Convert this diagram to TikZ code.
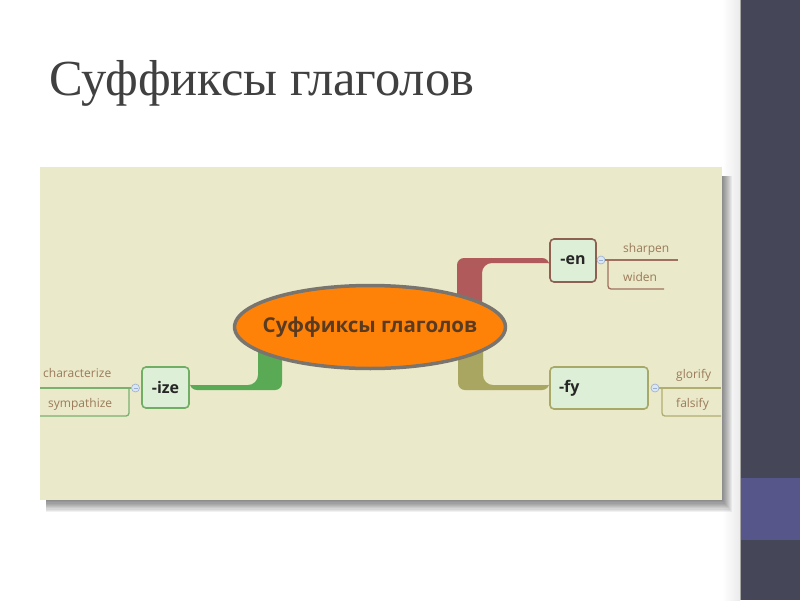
\documentclass[tikz,border=0pt]{standalone}
\usepackage{fontspec}
\setmainfont{Liberation Serif}
\newfontfamily\uisans{Open Sans}
\usetikzlibrary{shapes.geometric}
\definecolor{slidebar}{HTML}{454657}
\definecolor{slideacc}{HTML}{56568A}
\definecolor{beige}{HTML}{EAE9C9}
\definecolor{orng}{HTML}{FF8208}
\definecolor{ellb}{HTML}{7A746E}
\definecolor{roottxt}{HTML}{5A3B1F}
\definecolor{enc}{HTML}{B05A5C}
\definecolor{izec}{HTML}{5AAA55}
\definecolor{fyc}{HTML}{A8A660}
\definecolor{enbd}{HTML}{8E6052}
\definecolor{izebd}{HTML}{6FAE64}
\definecolor{fybd}{HTML}{A8A868}
\definecolor{enlf}{HTML}{A0705E}
\definecolor{izelf}{HTML}{7AB070}
\definecolor{fylf}{HTML}{B0AE70}
\definecolor{boxfill}{HTML}{DDEFD6}
\definecolor{leaftxt}{HTML}{9A7A5A}
\definecolor{knobd}{HTML}{9AB0D0}
\definecolor{knobf}{HTML}{DCE6F2}
\definecolor{titlec}{HTML}{404040}
\pgfdeclarelayer{back}
\pgfdeclarelayer{bg}
\pgfsetlayers{back,bg,main}
\begin{document}
\begin{tikzpicture}[x=1pt,y=-1pt,
  mbox/.style={draw, line width=1.6pt, rounded corners=4pt, fill=boxfill, inner sep=0pt,
    font=\uisans\bfseries\fontsize{16}{19}\selectfont, text=black!85},
  leaf/.style={inner sep=0pt, anchor=base west, font=\uisans\fontsize{12}{14}\selectfont, text=leaftxt},
  knob/.style={circle, draw=knobd, fill=knobf, line width=0.6pt, minimum size=8pt, inner sep=0pt},
  leafline/.style={line width=1.3pt, rounded corners=3pt},
]
\useasboundingbox (0,0) rectangle (800,600);
\begin{pgfonlayer}{back}
% slide background
\fill[white] (0,0) rectangle (800,600);
\shade[left color=white, right color=black!8] (722,0) rectangle (740,600);
\fill[slidebar] (740,0) rectangle (800,600);
\fill[slideacc] (741,478) rectangle (800,540);
\draw[black!35, line width=0.6pt] (740.3,0) -- (740.3,600);
% screenshot shadow
\foreach \i in {1,...,10} {
  \fill[black, opacity=0.055] (46,176) rectangle (722+\i, 500+1.2*\i);
}
\fill[beige] (40,167) rectangle (722,500);
\end{pgfonlayer}
% title
\node[anchor=base west, inner sep=0pt, text=titlec, font=\fontsize{50.5}{58}\selectfont] (title) at (49,95) {Суффиксы глаголов};
% central node: shape, then its text
\coordinate (rootc) at (370,327);
\draw[ellb, fill=orng, line width=3.5pt, line join=round]
  plot[smooth cycle, samples=73, domain=0:355] ({370+135.5*cos(\x)},{327+41.5*sin(\x)});
\node[ellipse, minimum width=271pt, minimum height=83pt, inner sep=0pt] (root) at (rootc) {};
\node[inner sep=0pt, font=\uisans\bfseries\fontsize{20.5}{24}\selectfont, text=roottxt] (roottext) at (root.center) {Суффиксы глаголов};
% branch nodes
\node[mbox, draw=enbd, minimum width=46pt, minimum height=43pt] (en) at (573,260.5) {-en};
\node[mbox, draw=izebd, minimum width=47pt, minimum height=41pt] (ize) at (165.5,387.5) {-ize};
\node[mbox, draw=fybd, minimum width=98pt, minimum height=42pt, text width=80pt, align=left] (fy) at (599,388) {-fy};
% knobs
\node[knob] (cen) at (601,260) {};
\node[knob] (cfy) at (655,388) {};
\node[knob] (cize) at (135.5,388) {};
\foreach \k in {cen,cfy,cize} {
  \draw[knobd, line width=0.6pt] ([xshift=-2pt]\k.center) -- ([xshift=2pt]\k.center);
}
% leaves
\node[leaf] (sharpen) at (623,252) {sharpen};
\node[leaf] (widen) at (623,281) {widen};
\node[leaf] (glorify) at (676,378) {glorify};
\node[leaf] (falsify) at (676,407) {falsify};
\node[leaf] (characterize) at (43,377) {characterize};
\node[leaf] (sympathize) at (48,407) {sympathize};
% leaf lines
\coordinate (enfork) at (608,260);
\coordinate (fyfork) at (662,388);
\coordinate (izefork) at (129,388);
\draw[enlf, line width=1.3pt] (cen.east) -- (enfork) -- (678,260);
\draw[enlf, leafline] (enfork) -- (608,289) -- (664,289);
\draw[fylf, line width=1.3pt] (cfy.east) -- (fyfork) -- (721,388);
\draw[fylf, leafline] (fyfork) -- (662,416) -- (721,416);
\draw[izelf, line width=1.3pt] (cize.west) -- (izefork) -- (40,388);
\draw[izelf, leafline] (izefork) -- (129,416) -- (40,416);
% thick connectors (under the central shape)
\begin{pgfonlayer}{back}
\fill[enc] (457,318) [rounded corners=7pt] -- (457,258) -- (en.west |- 0,258) [sharp corners] -- (en.west |- 0,263)
  [rounded corners=10pt] -- (482,263) [sharp corners] -- (482,318) -- cycle;
\fill[izec] (282,340) [rounded corners=7pt] -- (282,390) -- (ize.east |- 0,390) [sharp corners] -- (ize.east |- 0,385)
  [rounded corners=10pt] -- (258,385) [sharp corners] -- (258,340) -- cycle;
\fill[fyc] (458,340) [rounded corners=7pt] -- (458,390) -- (fy.west |- 0,390) [sharp corners] -- (fy.west |- 0,385)
  [rounded corners=10pt] -- (483,385) [sharp corners] -- (483,340) -- cycle;
\end{pgfonlayer}
\end{tikzpicture}
\end{document}
